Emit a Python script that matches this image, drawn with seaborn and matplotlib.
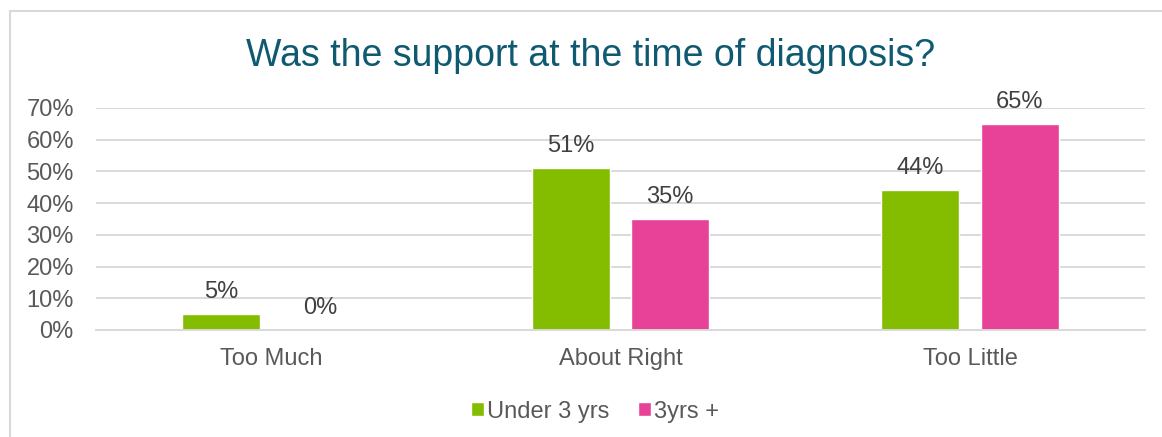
import matplotlib
matplotlib.use("Agg")
import matplotlib.pyplot as plt
import matplotlib.patches as mpatches
import seaborn as sns
import pandas as pd

# Survey responses, percent of respondents
categories = ["Too Much", "About Right", "Too Little"]
series_names = ["Under 3 yrs", "3yrs +"]
under_3_yrs = [5, 51, 44]
three_yrs_plus = [0, 35, 65]
y_ticks = [0, 10, 20, 30, 40, 50, 60, 70]

colors = ["#84BD00", "#E84198"]
text_gray = "#595959"
label_gray = "#404040"
grid_gray = "#D9D9D9"
fs = 17

sns.set_theme(style="white")
plt.rcParams["font.family"] = ["Liberation Sans", "DejaVu Sans"]

df = pd.DataFrame({
    "category": categories * 2,
    "group": [series_names[0]] * 3 + [series_names[1]] * 3,
    "value": under_3_yrs + three_yrs_plus,
})

fig = plt.figure(figsize=(11.62, 4.37), dpi=100)
ax = fig.add_axes([96 / 1162, 107 / 437, (1145 - 96) / 1162, 222 / 437])

sns.barplot(data=df, x="category", y="value", hue="group", order=categories,
            hue_order=series_names, palette=colors, width=0.569, gap=0.216,
            saturation=1, legend=False, ax=ax, errorbar=None)

for container, vals in zip(ax.containers, [under_3_yrs, three_yrs_plus]):
    ax.bar_label(container, labels=[f"{v}%" for v in vals], padding=8,
                 fontsize=fs, color=label_gray)

ax.set_ylim(0, 70)
ax.set_yticks(y_ticks)
ax.set_yticklabels([f"{t}%" for t in y_ticks])
ax.set_xlabel("")
ax.set_ylabel("")
ax.yaxis.grid(True, color=grid_gray, linewidth=1.4)
ax.set_axisbelow(True)
for side in ["top", "right", "left"]:
    ax.spines[side].set_visible(False)
ax.spines["bottom"].set_color(grid_gray)
ax.spines["bottom"].set_linewidth(1.4)
ax.tick_params(axis="y", length=0, pad=16, labelsize=fs, labelcolor=text_gray)
ax.tick_params(axis="x", length=0, pad=13, labelsize=fs, labelcolor=text_gray)

fig.text(0.508, 0.872, "Was the support at the time of diagnosis?",
         ha="center", va="center", fontsize=27, color="#0F5A70")

handles = [mpatches.Patch(facecolor=c, label=n) for c, n in zip(colors, series_names)]
fig.legend(handles=handles, loc="center", bbox_to_anchor=(0.512, 0.058), ncol=2,
           frameon=False, fontsize=fs, labelcolor=text_gray,
           handlelength=0.55, handleheight=0.55, handletextpad=0.15, columnspacing=1.2)

# light frame around the chart area
fig.patches.append(mpatches.Rectangle((10 / 1162, -0.1), 1.2, (437 - 11) / 437 + 0.1,
                                      transform=fig.transFigure, fill=False,
                                      edgecolor=grid_gray, linewidth=1.5))

fig.savefig("out.png", dpi=100)
